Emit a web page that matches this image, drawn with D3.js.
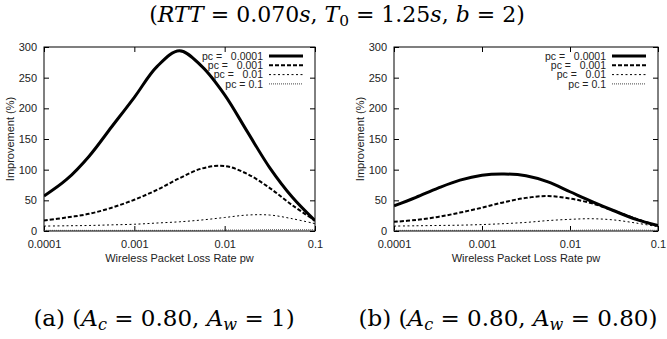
<!DOCTYPE html>
<html>
<head>
<meta charset="utf-8">
<script src="https://cdn.jsdelivr.net/npm/d3@7"></script>
<style>
  body { margin: 0; background: #fff; }
  text { font-family: "Liberation Sans", Arial, sans-serif; }
  .serif { font-family: "DejaVu Serif", "Liberation Serif", serif; }
</style>
</head>
<body>
<svg id="chart" width="667" height="339"></svg>
<script>
// wireless packet loss rate, sampled every quarter decade
const pwValues = [0.0001, 0.000178, 0.000316, 0.000562, 0.001, 0.00178, 0.00316, 0.00562, 0.01, 0.0178, 0.0316, 0.0562, 0.1];
const pcLabels = ["pc =   0.0001", "pc =   0.001", "pc =   0.01", "pc = 0.1"];
const xTicks = [0.0001, 0.001, 0.01, 0.1];
const yTicks = [0, 50, 100, 150, 200, 250, 300];

// (a) Ac = 0.80, Aw = 1
const leftPc0001 = [57, 84, 122, 170, 218, 268, 294, 268, 222, 162, 103, 55, 17];
const leftPc001 = [17, 22, 28, 38, 51, 67, 86, 102, 106, 93, 70, 42, 17];
const leftPc01 = [8, 8.5, 9, 10, 11, 13, 15, 18, 22, 26, 26, 20, 12];
const leftPc1 = [1, 1, 1, 1, 1, 1, 1, 1, 1.5, 1.5, 2, 2, 2];

// (b) Ac = 0.80, Aw = 0.80
const rightPc0001 = [41, 55, 70, 83, 91, 93, 90, 80, 64, 48, 33, 19, 9];
const rightPc001 = [15, 18, 23, 30, 38, 47, 54, 57, 53, 45, 33, 20, 8];
const rightPc01 = [8, 8.5, 9, 9.5, 10.5, 12, 14, 17, 19, 20, 18, 13, 7];
const rightPc1 = [1, 1, 1, 1, 1, 1, 1, 1, 1, 1.5, 1.5, 1.5, 1];

const lineStyles = [
  { width: 3, dash: null, color: "#000" },
  { width: 2, dash: "4,2", color: "#000" },
  { width: 1, dash: "2,2.5", color: "#000" },
  { width: 1, dash: "1,1", color: "#444" }
];

const svg = d3.select("#chart");
svg.append("rect").attr("width", 667).attr("height", 339).attr("fill", "#fff");

const plotTop = 47, plotBottom = 231, fontSize = 11;

function drawPanel(x0, x1, series) {
  const x = d3.scaleLog().domain([0.0001, 0.1]).range([x0, x1]);
  const y = d3.scaleLinear().domain([0, 300]).range([plotBottom, plotTop]);
  const g = svg.append("g");

  // ticks on all four sides, pointing inward like gnuplot
  const ax = [
    g.append("g").attr("transform", `translate(0,${plotBottom})`)
      .call(d3.axisBottom(x).tickValues(xTicks).tickFormat(d3.format("")).tickSize(-5).tickPadding(9)),
    g.append("g").attr("transform", `translate(0,${plotTop})`)
      .call(d3.axisTop(x).tickValues(xTicks).tickFormat("").tickSize(-5)),
    g.append("g").attr("transform", `translate(${x0},0)`)
      .call(d3.axisLeft(y).tickValues(yTicks).tickSize(-5).tickPadding(7)),
    g.append("g").attr("transform", `translate(${x1},0)`)
      .call(d3.axisRight(y).tickValues(yTicks).tickFormat("").tickSize(-5))
  ];
  ax.forEach(a => {
    a.select(".domain").remove();
    a.selectAll("line").attr("stroke", "#000");
    a.selectAll("text").attr("font-size", fontSize).attr("fill", "#222")
      .attr("font-family", '"Liberation Sans", Arial, sans-serif');
  });

  g.append("rect").attr("x", x0).attr("y", plotTop).attr("width", x1 - x0).attr("height", plotBottom - plotTop)
    .attr("fill", "none").attr("stroke", "#000").attr("stroke-width", 1);

  const clipId = "clip" + x0;
  svg.append("clipPath").attr("id", clipId).append("rect")
    .attr("x", x0).attr("y", plotTop).attr("width", x1 - x0).attr("height", plotBottom - plotTop);

  const line = d3.line()
    .x((d, i) => x(pwValues[i]))
    .y(d => y(d))
    .curve(d3.curveCatmullRom.alpha(0.5));

  series.forEach((vals, k) => {
    const st = lineStyles[k];
    g.append("path").datum(vals)
      .attr("clip-path", `url(#${clipId})`)
      .attr("d", line)
      .attr("fill", "none")
      .attr("stroke", st.color)
      .attr("stroke-width", st.width)
      .attr("stroke-dasharray", st.dash);
  });

  // key in the top right corner
  const key = g.append("g");
  pcLabels.forEach((lab, k) => {
    const ky = 56 + k * 9.3;
    const st = lineStyles[k];
    key.append("text")
      .attr("x", x1 - 52).attr("y", ky).attr("dy", "0.35em")
      .attr("text-anchor", "end").attr("font-size", 10.5).attr("fill", "#222")
      .style("white-space", "pre")
      .text(lab);
    key.append("line")
      .attr("x1", x1 - 46).attr("x2", x1 - 12)
      .attr("y1", ky).attr("y2", ky)
      .attr("stroke", st.color)
      .attr("stroke-width", st.width)
      .attr("stroke-dasharray", st.dash);
  });

  g.append("text")
    .attr("x", (x0 + x1) / 2).attr("y", 262)
    .attr("text-anchor", "middle").attr("font-size", fontSize).attr("fill", "#222")
    .text("Wireless Packet Loss Rate pw");
  g.append("text")
    .attr("transform", `translate(${x0 - 30},${(plotTop + plotBottom) / 2}) rotate(-90)`)
    .attr("text-anchor", "middle").attr("font-size", fontSize).attr("fill", "#222")
    .text("Improvement (%)");
}

drawPanel(44, 315, [leftPc0001, leftPc001, leftPc01, leftPc1]);
drawPanel(394, 658, [rightPc0001, rightPc001, rightPc01, rightPc1]);

// LaTeX style captions: pieces are [text, italic, subscript]
function mathText(cx, cy, size, parts) {
  const t = svg.append("text").attr("class", "serif")
    .attr("x", cx).attr("y", cy).attr("text-anchor", "middle")
    .attr("font-size", size).attr("fill", "#000").style("white-space", "pre");
  parts.forEach(p => {
    const s = t.append("tspan").text(p[0]);
    if (p[1]) s.attr("font-style", "italic");
    if (p[2]) s.attr("font-size", size * 0.7).attr("baseline-shift", "-25%");
  });
}

mathText(337, 22, 22, [
  ["("], ["RTT", 1], [" = 0.070"], ["s", 1], [", "], ["T", 1], ["0", 0, 1], [" = 1.25"], ["s", 1],
  [", "], ["b", 1], [" = 2)"]
]);
mathText(164, 326, 23, [
  ["(a) ("], ["A", 1], ["c", 1, 1], [" = 0.80, "], ["A", 1], ["w", 1, 1], [" = 1)"]
]);
mathText(508, 326, 23, [
  ["(b) ("], ["A", 1], ["c", 1, 1], [" = 0.80, "], ["A", 1], ["w", 1, 1], [" = 0.80)"]
]);
</script>
</body>
</html>
